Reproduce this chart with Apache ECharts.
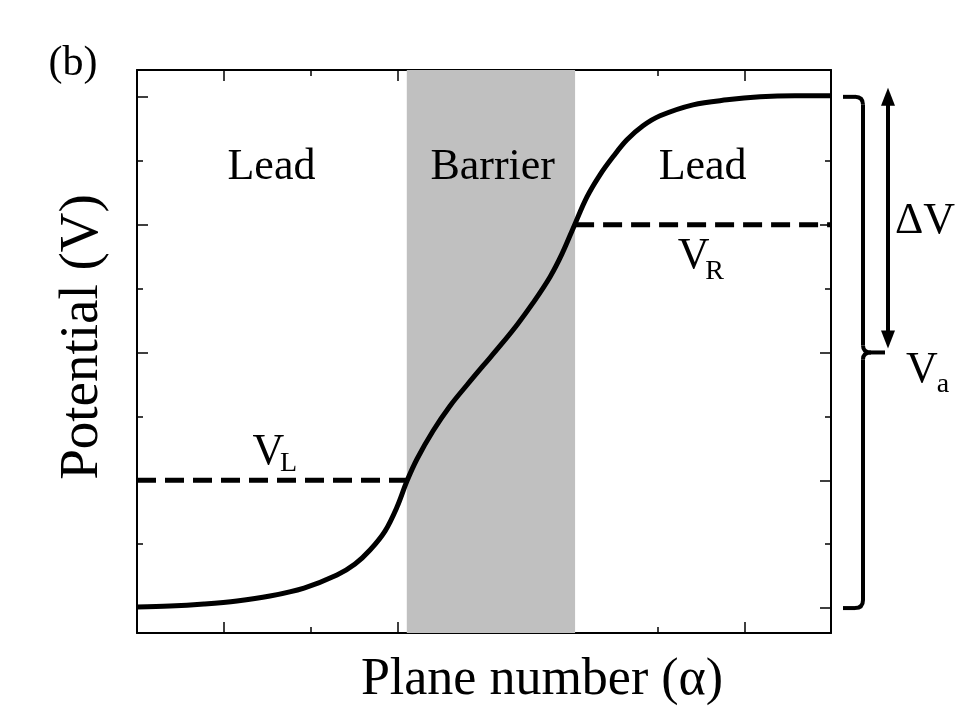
<!DOCTYPE html>
<html>
<head>
<meta charset="utf-8">
<script src="https://cdn.jsdelivr.net/npm/echarts@6/dist/echarts.min.js"></script>
<style>html,body{margin:0;padding:0;background:#fff;}#c{width:960px;height:720px;}</style>
</head>
<body>
<div id="c"></div>
<script>
// ---- data ----
const curveX = [0, 0.380, 0.772, 1.153, 1.533, 1.925, 2.305, 2.513, 2.686, 2.859, 2.997, 3.112, 3.228, 3.412, 3.608, 3.804, 3.988, 4.184, 4.380, 4.565, 4.761, 4.899, 5.049, 5.187, 5.337, 5.487, 5.648, 5.833, 6.029, 6.409, 6.801, 7.182, 7.585, 8.0];
const curveY = [0.016, 0.031, 0.063, 0.110, 0.188, 0.313, 0.517, 0.689, 0.908, 1.205, 1.581, 1.989, 2.333, 2.771, 3.163, 3.491, 3.789, 4.102, 4.431, 4.775, 5.182, 5.542, 6.012, 6.434, 6.779, 7.061, 7.327, 7.546, 7.703, 7.875, 7.953, 8.0, 8.016, 8.016];
const barrierRange = [3.11, 5.05];
const VL = 2, VR = 6, Vtop = 8, Vbottom = 0, Va = 4;
const leftLeadX = [0, 3.11];
const rightLeadX = [5.05, 8];
const xMajorTicks = [1, 3, 5, 7];
const xMinorTicks = [2, 4, 6];
const yMajorTicks = [0, 2, 4, 6, 8];
const yMinorTicks = [1, 3, 5, 7];
const regionLabels = ['Lead', 'Barrier', 'Lead'];
const regionLabelX = [1.55, 4.10, 6.52];
const regionLabelY = 6.89;
const xTitle = 'Plane number (α)';
const yTitle = 'Potential (V)';

const FONT = '"Liberation Serif", "DejaVu Serif", serif';
const X_MIN = 0, X_MAX = 8, Y_MIN = -0.39, Y_MAX = 8.42;

function xAx(pos, ticks, len, withLine) {
  return {
    type: 'value', position: pos, min: X_MIN, max: X_MAX,
    axisLine: { show: withLine, onZero: false, lineStyle: { color: '#000', width: 2 } },
    axisTick: { show: true, inside: true, length: len, customValues: ticks, lineStyle: { color: '#000', width: 1.5 } },
    axisLabel: { show: false }, splitLine: { show: false }
  };
}
function yAx(pos, ticks, len, withLine) {
  return {
    type: 'value', position: pos, min: Y_MIN, max: Y_MAX,
    axisLine: { show: withLine, onZero: false, lineStyle: { color: '#000', width: 2 } },
    axisTick: { show: true, inside: true, length: len, customValues: ticks, lineStyle: { color: '#000', width: 1.5 } },
    axisLabel: { show: false }, splitLine: { show: false }
  };
}

const chart = echarts.init(document.getElementById('c'), null, { renderer: 'canvas' });
const option = {
  backgroundColor: '#fff',
  animation: false,
  grid: { left: 137, right: 129, top: 70, bottom: 87 },
  xAxis: [
    xAx('bottom', xMajorTicks, 11, true),
    xAx('bottom', xMinorTicks, 6, false),
    xAx('top', xMajorTicks, 11, true),
    xAx('top', xMinorTicks, 6, false)
  ],
  yAxis: [
    yAx('left', yMajorTicks, 11, true),
    yAx('left', yMinorTicks, 6, false),
    yAx('right', yMajorTicks, 11, true),
    yAx('right', yMinorTicks, 6, false)
  ],
  series: [
    {
      type: 'line', name: 'barrier', data: [], silent: true,
      markArea: {
        silent: true,
        itemStyle: { color: '#c0c0c0', opacity: 1 },
        data: [[{ xAxis: barrierRange[0] }, { xAxis: barrierRange[1] }]]
      },
      z: 1
    },
    {
      type: 'line', name: 'VL', showSymbol: false, z: 3,
      data: [[leftLeadX[0], VL], [leftLeadX[1], VL]],
      lineStyle: { color: '#000', width: 5, type: [19, 9], cap: 'butt' }
    },
    {
      type: 'line', name: 'VR', showSymbol: false, z: 3,
      data: [[rightLeadX[0], VR], [rightLeadX[1], VR]],
      lineStyle: { color: '#000', width: 5, type: [19, 9], cap: 'butt' }
    },
    {
      type: 'line', name: 'potential', showSymbol: false, smooth: 0.35, z: 4,
      data: curveX.map((x, i) => [x, curveY[i]]),
      lineStyle: { color: '#000', width: 5 }
    }
  ]
};
chart.setOption(option);

function px(x, y) { return chart.convertToPixel({ xAxisIndex: 0, yAxisIndex: 0 }, [x, y]); }

const gfx = [];
function txt(x, y, s, size, align, valign, rot) {
  gfx.push({ type: 'text', x: x, y: y, z: 100, rotation: rot || 0,
    style: { text: s, fontFamily: FONT, fontSize: size, fill: '#000', align: align || 'center', verticalAlign: valign || 'middle' } });
}
function seg(x1, y1, x2, y2, w) {
  gfx.push({ type: 'line', z: 100, shape: { x1: x1, y1: y1, x2: x2, y2: y2 }, style: { stroke: '#000', lineWidth: w || 4, lineCap: 'butt' } });
}
function qc(x1, y1, cx, cy, x2, y2) {
  gfx.push({ type: 'bezierCurve', z: 100, shape: { x1: x1, y1: y1, cpx1: cx, cpy1: cy, x2: x2, y2: y2 }, style: { stroke: '#000', fill: null, lineWidth: 4 } });
}
// region labels
regionLabels.forEach((s, i) => { const p = px(regionLabelX[i], regionLabelY); txt(p[0], p[1], s, 44); });
// V_L and V_R
(function(){
  const pL = px(1.55, VL);
  txt(pL[0] - 3, pL[1] - 28, 'V', 44, 'center');
  txt(pL[0] + 17, pL[1] - 17, 'L', 28, 'center');
  const pR = px(6.52, VR);
  txt(pR[0] - 9, pR[1] + 32, 'V', 44, 'center');
  txt(pR[0] + 12, pR[1] + 47, 'R', 28, 'center');
})();
// (b)
txt(73, 64, '(b)', 42, 'center');
// axis titles
txt(542, 680, xTitle, 52, 'center');
txt(83, 337, yTitle, 55, 'center', 'middle', Math.PI / 2);

// brace and arrow on right
(function(){
  const right = px(X_MAX, 0)[0];
  const yT = px(0, Vtop)[1], yM = px(0, Va)[1], yB = px(0, Vbottom)[1];
  const bx = right + 32, bx0 = right + 12, tip = right + 54;
  seg(bx0, yT, bx - 8, yT);
  qc(bx - 8, yT, bx, yT, bx, yT + 8);
  seg(bx, yT + 8, bx, yM - 7);
  qc(bx, yM - 7, bx, yM, bx + 8, yM);
  seg(bx + 8, yM, tip, yM);
  qc(bx + 8, yM, bx, yM, bx, yM + 7);
  seg(bx, yM + 7, bx, yB - 8);
  qc(bx, yB - 8, bx, yB, bx - 8, yB);
  seg(bx - 8, yB, bx0, yB);

  const ax = right + 57;
  const t1 = yT - 9, t2 = yM - 4, hl = 18, hw = 7;
  seg(ax, t1 + hl - 2, ax, t2 - hl + 2, 4);
  gfx.push({ type: 'polygon', z: 100, shape: { points: [[ax, t1], [ax - hw, t1 + hl], [ax + hw, t1 + hl]] }, style: { fill: '#000' } });
  gfx.push({ type: 'polygon', z: 100, shape: { points: [[ax, t2], [ax - hw, t2 - hl], [ax + hw, t2 - hl]] }, style: { fill: '#000' } });
  txt(right + 94, (yT + yM) / 2 - 3, 'ΔV', 44, 'center');
  txt(right + 91, yM + 18, 'V', 44, 'center');
  txt(right + 112, yM + 32, 'a', 28, 'center');
})();

chart.setOption({ graphic: gfx });
</script>
</body>
</html>
